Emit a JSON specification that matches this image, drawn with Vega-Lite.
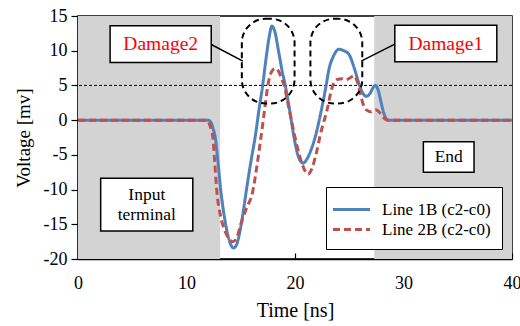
{
  "$schema": "https://vega.github.io/schema/vega-lite/v6.json",
  "width": 434,
  "height": 243,
  "autosize": {"type": "none"},
  "padding": {"left": 78, "top": 16, "right": 8, "bottom": 67},
  "background": "white",
  "config": {
    "font": "Liberation Serif",
    "view": {"stroke": "black", "strokeWidth": 1.5},
    "text": {"font": "Liberation Serif"},
    "axis": {"grid": false, "domainColor": "black", "tickColor": "black", "labelColor": "black", "titleColor": "black", "labelFont": "Liberation Serif", "titleFont": "Liberation Serif", "labelFontSize": 18, "titleFontSize": 19, "titleFontWeight": "normal", "domainWidth": 1.5, "tickWidth": 1.2, "labelOverlap": false, "labelFlush": false},
    "legend": {"labelFont": "Liberation Serif"}
  },
  "datasets": {
    "curves": [
      {"series": "Line 1B (c2-c0)", "t": 0, "v": 0},
      {"series": "Line 1B (c2-c0)", "t": 12.0, "v": 0},
      {"series": "Line 1B (c2-c0)", "t": 12.25, "v": -0.3},
      {"series": "Line 1B (c2-c0)", "t": 12.45, "v": -1.2},
      {"series": "Line 1B (c2-c0)", "t": 12.65, "v": -2.5},
      {"series": "Line 1B (c2-c0)", "t": 12.9, "v": -6},
      {"series": "Line 1B (c2-c0)", "t": 13.17, "v": -10.3},
      {"series": "Line 1B (c2-c0)", "t": 13.5, "v": -14},
      {"series": "Line 1B (c2-c0)", "t": 13.85, "v": -16.8},
      {"series": "Line 1B (c2-c0)", "t": 14.1, "v": -18},
      {"series": "Line 1B (c2-c0)", "t": 14.34, "v": -18.4},
      {"series": "Line 1B (c2-c0)", "t": 14.6, "v": -18},
      {"series": "Line 1B (c2-c0)", "t": 14.9, "v": -16.2},
      {"series": "Line 1B (c2-c0)", "t": 15.2, "v": -13.5},
      {"series": "Line 1B (c2-c0)", "t": 15.5, "v": -10.3},
      {"series": "Line 1B (c2-c0)", "t": 15.9, "v": -6.3},
      {"series": "Line 1B (c2-c0)", "t": 16.34, "v": -2.3},
      {"series": "Line 1B (c2-c0)", "t": 16.7, "v": 1.7},
      {"series": "Line 1B (c2-c0)", "t": 17.02, "v": 5},
      {"series": "Line 1B (c2-c0)", "t": 17.3, "v": 8.5},
      {"series": "Line 1B (c2-c0)", "t": 17.6, "v": 11.8},
      {"series": "Line 1B (c2-c0)", "t": 17.88, "v": 13.55},
      {"series": "Line 1B (c2-c0)", "t": 18.15, "v": 12.7},
      {"series": "Line 1B (c2-c0)", "t": 18.5, "v": 9.8},
      {"series": "Line 1B (c2-c0)", "t": 18.8, "v": 7.2},
      {"series": "Line 1B (c2-c0)", "t": 19.1, "v": 5},
      {"series": "Line 1B (c2-c0)", "t": 19.5, "v": 1.5},
      {"series": "Line 1B (c2-c0)", "t": 19.97, "v": -3},
      {"series": "Line 1B (c2-c0)", "t": 20.3, "v": -5.2},
      {"series": "Line 1B (c2-c0)", "t": 20.75, "v": -6.2},
      {"series": "Line 1B (c2-c0)", "t": 21.1, "v": -5.6},
      {"series": "Line 1B (c2-c0)", "t": 21.5, "v": -4.2},
      {"series": "Line 1B (c2-c0)", "t": 21.9, "v": -2.2},
      {"series": "Line 1B (c2-c0)", "t": 22.5, "v": 2.0},
      {"series": "Line 1B (c2-c0)", "t": 22.87, "v": 5},
      {"series": "Line 1B (c2-c0)", "t": 23.1, "v": 7.1},
      {"series": "Line 1B (c2-c0)", "t": 23.57, "v": 9.3},
      {"series": "Line 1B (c2-c0)", "t": 24.04, "v": 10.2},
      {"series": "Line 1B (c2-c0)", "t": 24.5, "v": 10.0},
      {"series": "Line 1B (c2-c0)", "t": 24.96, "v": 9.5},
      {"series": "Line 1B (c2-c0)", "t": 25.4, "v": 7.8},
      {"series": "Line 1B (c2-c0)", "t": 25.73, "v": 6.1},
      {"series": "Line 1B (c2-c0)", "t": 25.95, "v": 5},
      {"series": "Line 1B (c2-c0)", "t": 26.25, "v": 3.9},
      {"series": "Line 1B (c2-c0)", "t": 26.56, "v": 3.45},
      {"series": "Line 1B (c2-c0)", "t": 26.9, "v": 3.8},
      {"series": "Line 1B (c2-c0)", "t": 27.2, "v": 4.7},
      {"series": "Line 1B (c2-c0)", "t": 27.42, "v": 5.0},
      {"series": "Line 1B (c2-c0)", "t": 27.65, "v": 4.4},
      {"series": "Line 1B (c2-c0)", "t": 27.9, "v": 2.8},
      {"series": "Line 1B (c2-c0)", "t": 28.1, "v": 1.5},
      {"series": "Line 1B (c2-c0)", "t": 28.3, "v": 0.5},
      {"series": "Line 1B (c2-c0)", "t": 28.5, "v": 0.05},
      {"series": "Line 1B (c2-c0)", "t": 28.7, "v": 0},
      {"series": "Line 1B (c2-c0)", "t": 40, "v": 0},
      {"series": "Line 2B (c2-c0)", "t": 0, "v": 0},
      {"series": "Line 2B (c2-c0)", "t": 11.9, "v": 0},
      {"series": "Line 2B (c2-c0)", "t": 12.1, "v": -0.5},
      {"series": "Line 2B (c2-c0)", "t": 12.3, "v": -1.5},
      {"series": "Line 2B (c2-c0)", "t": 12.43, "v": -2.5},
      {"series": "Line 2B (c2-c0)", "t": 12.6, "v": -6},
      {"series": "Line 2B (c2-c0)", "t": 12.8, "v": -10.3},
      {"series": "Line 2B (c2-c0)", "t": 13.1, "v": -13.5},
      {"series": "Line 2B (c2-c0)", "t": 13.5, "v": -15.8},
      {"series": "Line 2B (c2-c0)", "t": 13.9, "v": -17.0},
      {"series": "Line 2B (c2-c0)", "t": 14.25, "v": -17.5},
      {"series": "Line 2B (c2-c0)", "t": 14.6, "v": -17.1},
      {"series": "Line 2B (c2-c0)", "t": 14.96, "v": -15.2},
      {"series": "Line 2B (c2-c0)", "t": 15.5, "v": -12.8},
      {"series": "Line 2B (c2-c0)", "t": 16.1, "v": -10.3},
      {"series": "Line 2B (c2-c0)", "t": 16.5, "v": -6.5},
      {"series": "Line 2B (c2-c0)", "t": 16.87, "v": -2.4},
      {"series": "Line 2B (c2-c0)", "t": 17.2, "v": 1.5},
      {"series": "Line 2B (c2-c0)", "t": 17.5, "v": 5},
      {"series": "Line 2B (c2-c0)", "t": 17.85, "v": 7.0},
      {"series": "Line 2B (c2-c0)", "t": 18.19, "v": 7.45},
      {"series": "Line 2B (c2-c0)", "t": 18.5, "v": 7.0},
      {"series": "Line 2B (c2-c0)", "t": 18.75, "v": 6.0},
      {"series": "Line 2B (c2-c0)", "t": 19.0, "v": 5},
      {"series": "Line 2B (c2-c0)", "t": 19.4, "v": 2.0},
      {"series": "Line 2B (c2-c0)", "t": 19.8, "v": -1.0},
      {"series": "Line 2B (c2-c0)", "t": 20.2, "v": -3.8},
      {"series": "Line 2B (c2-c0)", "t": 20.7, "v": -6.5},
      {"series": "Line 2B (c2-c0)", "t": 21.2, "v": -7.8},
      {"series": "Line 2B (c2-c0)", "t": 21.6, "v": -6.8},
      {"series": "Line 2B (c2-c0)", "t": 22.0, "v": -4.5},
      {"series": "Line 2B (c2-c0)", "t": 22.35, "v": -2.0},
      {"series": "Line 2B (c2-c0)", "t": 22.96, "v": 1.5},
      {"series": "Line 2B (c2-c0)", "t": 23.4, "v": 4.6},
      {"series": "Line 2B (c2-c0)", "t": 23.88, "v": 5.85},
      {"series": "Line 2B (c2-c0)", "t": 24.34, "v": 5.95},
      {"series": "Line 2B (c2-c0)", "t": 24.7, "v": 5.8},
      {"series": "Line 2B (c2-c0)", "t": 25.1, "v": 6.1},
      {"series": "Line 2B (c2-c0)", "t": 25.45, "v": 6.4},
      {"series": "Line 2B (c2-c0)", "t": 25.73, "v": 5.6},
      {"series": "Line 2B (c2-c0)", "t": 26.04, "v": 3.7},
      {"series": "Line 2B (c2-c0)", "t": 26.3, "v": 2.2},
      {"series": "Line 2B (c2-c0)", "t": 26.6, "v": 1.45},
      {"series": "Line 2B (c2-c0)", "t": 27.0, "v": 1.2},
      {"series": "Line 2B (c2-c0)", "t": 27.42, "v": 1.5},
      {"series": "Line 2B (c2-c0)", "t": 27.8, "v": 1.1},
      {"series": "Line 2B (c2-c0)", "t": 28.1, "v": 0.5},
      {"series": "Line 2B (c2-c0)", "t": 28.35, "v": 0.1},
      {"series": "Line 2B (c2-c0)", "t": 28.6, "v": 0},
      {"series": "Line 2B (c2-c0)", "t": 40, "v": 0}
    ],
    "shade": [
      {"t1": 0, "t2": 13.1, "v1": 15, "v2": -20},
      {"t1": 27.3, "t2": 40, "v1": 15, "v2": -20}
    ],
    "rings": [
      {"name": "Damage2", "t1": 15.1, "t2": 19.96, "v1": 14.6, "v2": 2.4},
      {"name": "Damage1", "t1": 21.42, "t2": 26.2, "v1": 14.6, "v2": 2.4}
    ],
    "connectors": [
      {"name": "Damage2", "t1": 12.28, "v1": 10.9, "t2": 15.2, "v2": 8.5},
      {"name": "Damage1", "t1": 26.1, "v1": 8.5, "t2": 29.2, "v2": 10.95}
    ],
    "boxes": [
      {"name": "Damage2", "t1": 2.96, "t2": 12.28, "v1": 13.6, "v2": 8.3},
      {"name": "Damage1", "t1": 29.2, "t2": 38.6, "v1": 13.65, "v2": 8.4},
      {"name": "Input terminal", "t1": 2.09, "t2": 10.58, "v1": -8.36, "v2": -15.95},
      {"name": "End", "t1": 31.83, "t2": 36.5, "v1": -3.1, "v2": -7.5}
    ],
    "labels": [
      {"label": "Damage2", "tc": 7.62, "vc": 10.95, "kind": "damage"},
      {"label": "Damage1", "tc": 33.9, "vc": 11.0, "kind": "damage"},
      {"label": "Input", "tc": 6.34, "vc": -10.76, "kind": "region"},
      {"label": "terminal", "tc": 6.34, "vc": -13.73, "kind": "region"},
      {"label": "End", "tc": 34.17, "vc": -5.3, "kind": "region"}
    ]
  },
  "encoding": {
    "x": {"type": "quantitative", "scale": {"domain": [0, 40], "nice": false}, "axis": {"title": "Time [ns]", "values": [0, 10, 20, 30, 40], "tickSize": -6, "labelPadding": 21, "titlePadding": 8, "titleFontSize": 20, "labelOverlap": false}},
    "y": {"type": "quantitative", "scale": {"domain": [-20, 15], "nice": false}, "axis": {"title": "Voltage [mv]", "values": [-20, -15, -10, -5, 0, 5, 10, 15], "tickSize": 7, "labelPadding": 4, "titlePadding": 10, "labelOverlap": false, "labelExpr": "'' + datum.value"}}
  },
  "layer": [
    {
      "data": {"name": "shade"},
      "mark": {"type": "rect", "color": "#d3d3d3"},
      "encoding": {
        "x": {"field": "t1"},
        "x2": {"field": "t2"},
        "y": {"field": "v1"},
        "y2": {"field": "v2"}
      }
    },
    {
      "data": {"values": [{"ref": 5}]},
      "mark": {"type": "rule", "color": "black", "strokeWidth": 1, "strokeDash": [3, 2]},
      "encoding": {"y": {"field": "ref"}}
    },
    {
      "data": {"name": "curves"},
      "mark": {"type": "line", "strokeWidth": 3, "interpolate": "monotone"},
      "encoding": {
        "x": {"field": "t"},
        "y": {"field": "v"},
        "color": {"field": "series", "type": "nominal", "scale": {"domain": ["Line 1B (c2-c0)", "Line 2B (c2-c0)"], "range": ["#4F81BD", "#C0504D"]},
          "legend": {"title": null, "orient": "none", "legendX": 248, "legendY": 171, "fillColor": "white", "strokeColor": "black", "padding": 11, "symbolType": "M-1.85,0L1.85,0", "symbolSize": 400, "symbolOffset": 3, "symbolStrokeWidth": 3, "labelFontSize": 17, "labelFont": "Liberation Serif", "labelColor": "black", "labelOffset": 19, "rowPadding": -3}},
        "strokeDash": {"field": "series", "type": "nominal", "scale": {"domain": ["Line 1B (c2-c0)", "Line 2B (c2-c0)"], "range": [[1, 0], [7, 4]]},
          "legend": {"title": null, "orient": "none", "legendX": 248, "legendY": 171, "fillColor": "white", "strokeColor": "black", "padding": 11, "symbolType": "M-1.85,0L1.85,0", "symbolSize": 400, "symbolOffset": 3, "symbolStrokeWidth": 3, "labelFontSize": 17, "labelFont": "Liberation Serif", "labelColor": "black", "labelOffset": 19, "rowPadding": -3}}
      }
    },
    {
      "data": {"name": "rings"},
      "mark": {"type": "rect", "fill": null, "fillOpacity": 0, "stroke": "black", "strokeWidth": 2, "strokeDash": [6, 4], "cornerRadius": 24},
      "encoding": {
        "x": {"field": "t1"},
        "x2": {"field": "t2"},
        "y": {"field": "v1"},
        "y2": {"field": "v2"}
      }
    },
    {
      "data": {"name": "connectors"},
      "mark": {"type": "rule", "color": "black", "strokeWidth": 1.5},
      "encoding": {
        "x": {"field": "t1"},
        "x2": {"field": "t2"},
        "y": {"field": "v1"},
        "y2": {"field": "v2"}
      }
    },
    {
      "data": {"name": "boxes"},
      "mark": {"type": "rect", "fill": "white", "stroke": "black", "strokeWidth": 1.5},
      "encoding": {
        "x": {"field": "t1"},
        "x2": {"field": "t2"},
        "y": {"field": "v1"},
        "y2": {"field": "v2"}
      }
    },
    {
      "data": {"name": "labels"},
      "transform": [{"filter": "datum.kind == 'damage'"}],
      "mark": {"type": "text", "font": "Liberation Serif", "fontSize": 19.5, "color": "#ff0000", "align": "center", "baseline": "middle"},
      "encoding": {
        "x": {"field": "tc"},
        "y": {"field": "vc"},
        "text": {"field": "label"}
      }
    },
    {
      "data": {"name": "labels"},
      "transform": [{"filter": "datum.kind == 'region'"}],
      "mark": {"type": "text", "font": "Liberation Serif", "fontSize": 17.5, "color": "black", "align": "center", "baseline": "middle"},
      "encoding": {
        "x": {"field": "tc"},
        "y": {"field": "vc"},
        "text": {"field": "label"}
      }
    }
  ]
}
